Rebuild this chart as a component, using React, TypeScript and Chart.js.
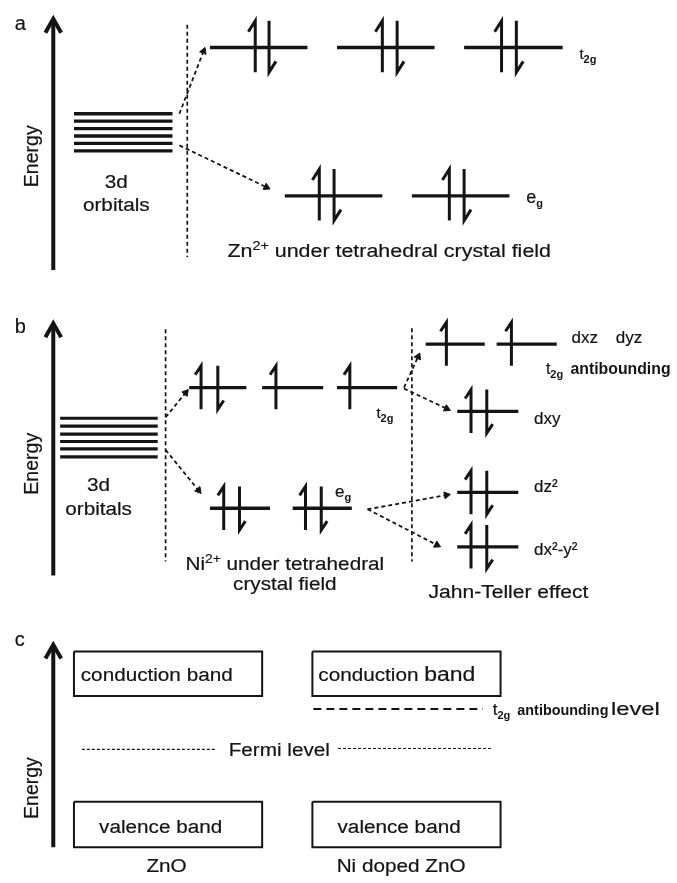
import React, { useEffect, useRef } from 'react';
import { Chart, registerables } from 'chart.js';

Chart.register(...registerables);

const W = 677;
const H = 883;
const INK = '#141414';
const FONT = '"Liberation Sans", Arial, Helvetica, sans-serif';

// ---------------- data (diagram units: x right, energy axis reversed y) ----------------
// Energy axes: [x, yTop, yBottom]
const ENERGY_AXES = [[49, 13, 268], [49, 321, 577], [49, 646, 852]];

// degenerate 3d orbital stacks
const STACK_A_X = [70, 170];
const STACK_A_Y = [110, 117.5, 125, 132.5, 140, 147.5];
const STACK_B_X = [56, 155];
const STACK_B_Y = [418, 426, 434, 441.5, 449, 457];

// orbital levels [x1, x2, y]
const LEVELS_A_T2G = [[208, 307, 43], [337, 436, 43], [466, 566, 43]];
const LEVELS_A_EG = [[284, 383, 193], [413, 512, 193]];
const LEVELS_B_T2G = [[187, 245, 387], [261, 323, 387], [337, 398, 387]];
const LEVELS_B_EG = [[208, 269, 509], [292, 352, 509]];
const LEVELS_B_JT = [[427, 487, 343], [499, 560, 343], [459, 521, 411], [459, 521, 493], [459, 521, 548]];

// electron spins [x, levelY]
const SPIN_UP_A = [[254, 43], [383, 43], [504, 43], [319, 193], [451, 193]];
const SPIN_DOWN_A = [[268, 43], [398, 43], [519, 43], [334, 193], [466, 193]];
const SPIN_UP_B = [[199, 387], [275, 387], [350, 387], [222, 509], [305, 509], [448, 343], [514, 343], [473, 411], [473, 493], [473, 548]];
const SPIN_DOWN_B = [[216, 387], [238, 509], [321, 509], [489, 411], [489, 493], [489, 548]];

// dashed separators [x, y1, y2]
const SEPARATORS = [[185, 20, 255], [163, 328, 563], [413, 327, 563]];

// splitting arrows [x1, y1, x2, y2]
const TRANSITIONS = [
  [177, 110, 203, 43], [177, 142, 269, 186],
  [163, 417, 186, 389], [163, 450, 199, 494],
  [405, 387, 421, 352], [405, 388, 452, 410],
  [368, 510, 452, 495], [368, 510, 442, 548],
];

// bands [x1, x2, yTop, yBottom]
const BANDS = [[70, 261, 654, 699], [70, 261, 806, 852], [312, 503, 654, 699], [312, 503, 806, 852]];
const FERMI = [[78, 215, 753], [338, 495, 752]];
const T2G_LEVEL_C = [[313, 485, 712]];

// ---------------- labels ----------------
type Seg = { t: string; s?: number; dy?: number; b?: boolean };
type Label = { x: number; y: number; align?: 'left' | 'center'; sx?: number; rot?: boolean; segs: Seg[] };

const sub = (t: string, s = 11): Seg => ({ t, s, dy: 4, b: true });
const sup = (t: string): Seg => ({ t, s: 12, dy: -7 });

const LABELS: Label[] = [
  { x: 10, y: 25, segs: [{ t: 'a', s: 20 }] },
  { x: 10, y: 332, segs: [{ t: 'b', s: 20 }] },
  { x: 10, y: 648, segs: [{ t: 'c', s: 20 }] },
  { x: 33, y: 153, rot: true, align: 'center', segs: [{ t: 'Energy', s: 19.5 }] },
  { x: 33, y: 464, rot: true, align: 'center', segs: [{ t: 'Energy', s: 19.5 }] },
  { x: 33, y: 792, rot: true, align: 'center', segs: [{ t: 'Energy', s: 19.5 }] },
  // panel a
  { x: 113, y: 185, align: 'center', sx: 1.15, segs: [{ t: '3d' }] },
  { x: 113, y: 208, align: 'center', sx: 1.15, segs: [{ t: 'orbitals' }] },
  { x: 583, y: 55, segs: [{ t: 't', s: 15 }, sub('2g')] },
  { x: 529, y: 200, segs: [{ t: 'e', s: 18 }, sub('g')] },
  { x: 390, y: 255, align: 'center', sx: 1.19, segs: [{ t: 'Zn' }, sup('2+'), { t: ' under tetrahedral crystal field' }] },
  // panel b
  { x: 95, y: 492, align: 'center', sx: 1.15, segs: [{ t: '3d' }] },
  { x: 95, y: 516, align: 'center', sx: 1.15, segs: [{ t: 'orbitals' }] },
  { x: 377, y: 418, segs: [{ t: 't', s: 15 }, sub('2g')] },
  { x: 335, y: 498, segs: [{ t: 'e', s: 17 }, sub('g')] },
  { x: 575, y: 342, segs: [{ t: 'dxz', s: 17 }] },
  { x: 620, y: 342, segs: [{ t: 'dyz', s: 17 }] },
  { x: 549, y: 373, segs: [{ t: 't', s: 16 }, sub('2g')] },
  { x: 574, y: 373, segs: [{ t: 'antibounding', s: 15.8, b: true }] },
  { x: 537, y: 424, segs: [{ t: 'dxy', s: 17 }] },
  { x: 537, y: 493, segs: [{ t: 'dz²', s: 17 }] },
  { x: 537, y: 556, segs: [{ t: 'dx²-y²', s: 17 }] },
  { x: 284, y: 571, align: 'center', sx: 1.15, segs: [{ t: 'Ni' }, sup('2+'), { t: ' under tetrahedral' }] },
  { x: 284, y: 592, align: 'center', sx: 1.15, segs: [{ t: 'crystal field' }] },
  { x: 511, y: 600, align: 'center', sx: 1.17, segs: [{ t: 'Jahn-Teller effect' }] },
  // panel c
  { x: 154, y: 684, align: 'center', sx: 1.15, segs: [{ t: 'conduction band' }] },
  { x: 158, y: 837, align: 'center', sx: 1.15, segs: [{ t: 'valence band' }] },
  { x: 164, y: 877, align: 'center', sx: 1.15, segs: [{ t: 'ZnO' }] },
  { x: 227, y: 760, sx: 1.15, segs: [{ t: 'Fermi level' }] },
  { x: 318, y: 684, sx: 1.15, segs: [{ t: 'conduction ' }, { t: 'band', s: 20 }] },
  { x: 400, y: 837, align: 'center', sx: 1.15, segs: [{ t: 'valence band' }] },
  { x: 402, y: 877, align: 'center', sx: 1.15, segs: [{ t: 'Ni doped ZnO' }] },
  { x: 495, y: 718, segs: [{ t: 't', s: 17 }, sub('2g')] },
  { x: 520, y: 718, segs: [{ t: 'antibounding', s: 14.4, b: true }] },
  { x: 615, y: 718, sx: 1.25, segs: [{ t: 'level', s: 19 }] },
];

// ---------------- dataset builders ----------------
type P = [number, number];

function line(pts: P[], width: number, dash: number[] = []) {
  return {
    data: pts.map(([x, y]) => ({ x, y })),
    showLine: true,
    pointRadius: 0,
    pointHoverRadius: 0,
    borderColor: INK,
    backgroundColor: INK,
    borderWidth: width,
    borderDash: dash,
    borderCapStyle: 'butt',
    borderJoinStyle: 'miter',
    fill: false,
    tension: 0,
    clip: false,
  };
}

function arrowHead(x1: number, y1: number, x2: number, y2: number, r: number) {
  const dx = x2 - x1;
  const dy = y2 - y1;
  const L = Math.hypot(dx, dy);
  const rot = (Math.atan2(dx, -dy) * 180) / Math.PI;
  return {
    data: [{ x: x2 - (dx / L) * r, y: y2 - (dy / L) * r }],
    showLine: false,
    pointStyle: 'triangle',
    pointRadius: r,
    pointHoverRadius: r,
    pointRotation: rot,
    pointBackgroundColor: INK,
    pointBorderColor: INK,
    pointBorderWidth: 1,
    clip: false,
  };
}

function buildDatasets() {
  const ds: any[] = [];
  // energy axes
  ENERGY_AXES.forEach(([x, y1, y2]) => {
    ds.push(line([[x, y2], [x, y1 + 2]], 4));
    ds.push(line([[x - 8, y1 + 15], [x, y1 + 1], [x + 8, y1 + 15]], 4));
  });
  // stacks
  STACK_A_Y.forEach((y) => ds.push(line([[STACK_A_X[0], y], [STACK_A_X[1], y]], 3.4)));
  STACK_B_Y.forEach((y) => ds.push(line([[STACK_B_X[0], y], [STACK_B_X[1], y]], 3.2)));
  // levels
  [...LEVELS_A_T2G, ...LEVELS_A_EG, ...LEVELS_B_T2G, ...LEVELS_B_EG, ...LEVELS_B_JT].forEach(([x1, x2, y]) =>
    ds.push(line([[x1, y], [x2, y]], 3.3)),
  );
  // spins
  const up = (list: number[][], t: number, b: number, hx: number, hy: number) =>
    list.forEach(([x, y]) => ds.push(line([[x - hx, y - t + hy], [x, y - t], [x, y + b]], 3)));
  const down = (list: number[][], t: number, b: number, hx: number, hy: number) =>
    list.forEach(([x, y]) => ds.push(line([[x, y - t], [x, y + b], [x + hx, y + b - hy]], 3)));
  up(SPIN_UP_A, 27, 25, 7, 11);
  down(SPIN_DOWN_A, 27, 25, 7, 11);
  up(SPIN_UP_B, 22, 22, 6, 9);
  down(SPIN_DOWN_B, 22, 22, 6, 9);
  // separators
  SEPARATORS.forEach(([x, y1, y2]) => ds.push(line([[x, y1], [x, y2]], 1.7, [4, 3])));
  // splitting arrows
  TRANSITIONS.forEach(([x1, y1, x2, y2]) => {
    const r = 4;
    const L = Math.hypot(x2 - x1, y2 - y1);
    const ex = x2 - ((x2 - x1) / L) * r;
    const ey = y2 - ((y2 - y1) / L) * r;
    ds.push(line([[x1, y1], [ex, ey]], 1.8, [4, 3]));
    ds.push(arrowHead(x1, y1, x2, y2, r));
  });
  // bands
  BANDS.forEach(([x1, x2, y1, y2]) =>
    ds.push(line([[x1, y1], [x2, y1], [x2, y2], [x1, y2], [x1, y1]], 2)),
  );
  FERMI.forEach(([x1, x2, y]) => ds.push(line([[x1, y], [x2, y]], 1.2, [3, 2])));
  T2G_LEVEL_C.forEach(([x1, x2, y]) => ds.push(line([[x1, y], [x2, y]], 2, [8, 5])));
  return ds;
}

// ---------------- text plugin ----------------
const labelPlugin = {
  id: 'diagramLabels',
  afterDatasetsDraw(chart: any) {
    const ctx: CanvasRenderingContext2D = chart.ctx;
    const xs = chart.scales.x;
    const ys = chart.scales.y;
    LABELS.forEach((lab) => {
      const px = xs.getPixelForValue(lab.x);
      const py = ys.getPixelForValue(lab.y);
      const sx = lab.sx ?? 1;
      ctx.save();
      ctx.fillStyle = INK;
      ctx.strokeStyle = INK;
      ctx.lineWidth = 0.2;
      ctx.lineJoin = 'round';
      ctx.textBaseline = 'alphabetic';
      ctx.textAlign = 'left';
      const font = (sg: Seg) => `${sg.b ? 'bold ' : ''}${sg.s ?? 18}px ${FONT}`;
      const put = (sg: Seg, cx: number) => {
        ctx.font = font(sg);
        ctx.fillText(sg.t, cx, sg.dy ?? 0);
        if (!sg.b) ctx.strokeText(sg.t, cx, sg.dy ?? 0);
        return ctx.measureText(sg.t).width;
      };
      let total = 0;
      lab.segs.forEach((sg) => {
        ctx.font = font(sg);
        total += ctx.measureText(sg.t).width;
      });
      if (lab.rot) {
        ctx.translate(px, py);
        ctx.rotate(-Math.PI / 2);
        let cx = -total / 2;
        lab.segs.forEach((sg) => {
          cx += put(sg, cx);
        });
      } else {
        const start = lab.align === 'center' ? px - (total * sx) / 2 : px;
        ctx.translate(start, py);
        ctx.scale(sx, 1);
        let cx = 0;
        lab.segs.forEach((sg) => {
          cx += put(sg, cx);
        });
      }
      ctx.restore();
    });
  },
};

export default function App() {
  const ref = useRef<HTMLCanvasElement | null>(null);
  useEffect(() => {
    if (!ref.current) return;
    const chart = new Chart(ref.current, {
      type: 'scatter',
      data: { datasets: buildDatasets() },
      options: {
        animation: false,
        responsive: false,
        maintainAspectRatio: false,
        events: [],
        layout: { padding: 0 },
        scales: {
          x: { type: 'linear', min: 0, max: W, display: false },
          y: { type: 'linear', min: 0, max: H, reverse: true, display: false },
        },
        plugins: { legend: { display: false }, tooltip: { enabled: false }, title: { display: false } },
      },
      plugins: [labelPlugin],
    } as any);
    return () => chart.destroy();
  }, []);
  return (
    <div style={{ position: 'absolute', left: 0, top: 0, width: W, height: H, background: '#fff' }}>
      <canvas ref={ref} width={W} height={H} style={{ display: 'block', width: W, height: H }} />
    </div>
  );
}
